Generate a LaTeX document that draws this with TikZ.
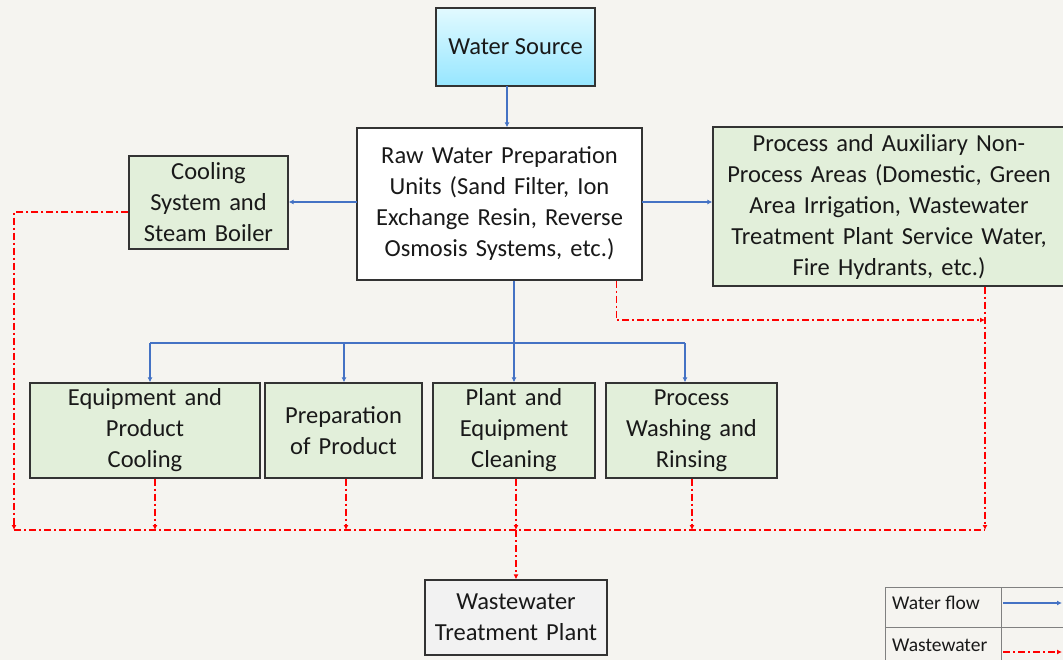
\documentclass[tikz,border=0pt]{standalone}
\usepackage{fontspec}
\setmainfont{Carlito}
\usetikzlibrary{arrows.meta}

\definecolor{paper}{RGB}{245,244,240}
\definecolor{flowblue}{RGB}{68,114,196}
\definecolor{boxgreen}{RGB}{226,239,218}
\definecolor{boxgray}{RGB}{242,242,242}
\definecolor{srctop}{RGB}{226,250,255}
\definecolor{srcbot}{RGB}{150,230,255}

\begin{document}
\begin{tikzpicture}[x=1pt,y=-1pt,line cap=butt]

    % let's define some key values
    \def\ybus{343}
    \def\ywaste{530}
    \def\ywasteaux{320}
    \def\xwasteleft{14}
    \def\xwasteright{985}
    \def\yrow{430.5}
    \def\hrow{95}

    % Styles
    \tikzstyle{box}=[draw=black!80, line width=1.3pt, align=center, inner sep=4pt,
        font=\fontsize{24.5}{31}\selectfont, text=black!90]
    \tikzstyle{greenbox}=[box, fill=boxgreen]
    \tikzstyle{water}=[draw=flowblue, line width=1.3pt, -{Latex[length=5pt,width=5pt]}]
    \tikzstyle{waste}=[draw=red, line width=1.4pt,
        dash pattern=on 7pt off 3pt on 2pt off 3pt, -{Latex[length=5pt,width=5pt]}]
    \tikzstyle{legtext}=[font=\fontsize{19.5}{22}\selectfont, text=black!90, inner sep=0pt]

    % page
    \fill[paper] (0,0) rectangle (1063,660);
    \useasboundingbox (0,0) rectangle (1063,660);
    \clip (0,0) rectangle (1063,660);

    % water source
    \node[box, top color=srctop, bottom color=srcbot, minimum width=159pt,
        minimum height=78pt] (src) at (515.5,47) {Water Source};

    % raw water preparation
    \node[box, fill=white, text width=277pt, minimum height=152pt] (raw) at (499.5,204)
        {Raw Water Preparation\\Units (Sand Filter, Ion\\Exchange Resin, Reverse\\Osmosis Systems, etc.)};

    % cooling system
    \node[greenbox, text width=151pt, minimum height=93pt] (cool) at (208.5,202.5)
        {Cooling\\System and\\Steam Boiler};

    % auxiliary areas
    \node[greenbox, text width=344pt, minimum height=159pt] (aux) at (889,206.5)
        {Process and Auxiliary Non-\\Process Areas (Domestic, Green\\Area Irrigation, Wastewater\\Treatment Plant Service Water,\\Fire Hydrants, etc.)};

    % consumers
    \node[greenbox, text width=222pt, minimum height=\hrow pt] (cooling) at (145,\yrow)
        {Equipment and\\Product\\Cooling};
    \node[greenbox, text width=149pt, minimum height=\hrow pt] (prep) at (343.5,\yrow)
        {Preparation\\of Product};
    \node[greenbox, text width=154pt, minimum height=\hrow pt] (clean) at (514,\yrow)
        {Plant and\\Equipment\\Cleaning};
    \node[greenbox, text width=163pt, minimum height=\hrow pt] (wash) at (691.5,\yrow)
        {Process\\Washing and\\Rinsing};

    % wastewater treatment plant
    \node[box, fill=boxgray, text width=174pt, minimum height=75pt] (wwtp) at (516,617.5)
        {Wastewater\\Treatment Plant};

    % water flow
    \coordinate (srcout) at (507,86);
    \coordinate (rawl) at (357,202);
    \coordinate (rawr) at (642,202);
    \draw[water] (srcout) -- (srcout |- raw.north);
    \draw[water] (rawl) -- (rawl -| cool.east);
    \draw[water] (rawr) -- (rawr -| aux.west);

    % distribution bus
    \coordinate (bus1) at (150,\ybus);
    \coordinate (bus2) at (344,\ybus);
    \coordinate (bus3) at (514,\ybus);
    \coordinate (bus4) at (685,\ybus);
    \draw[water, -] (bus3 |- raw.south) -- (bus3);
    \draw[water, -] (bus1) -- (bus4);
    \draw[water] (bus1) -- (bus1 |- cooling.north);
    \draw[water] (bus2) -- (bus2 |- prep.north);
    \draw[water] (bus3) -- (bus3 |- clean.north);
    \draw[water] (bus4) -- (bus4 |- wash.north);

    % wastewater collector
    \coordinate (wl) at (\xwasteleft,\ywaste);
    \coordinate (wr) at (\xwasteright,\ywaste);
    \coordinate (wa) at (\xwasteright,\ywasteaux);
    \draw[waste, -] (wl) -- (wr);
    \draw[waste] ([yshift=-9.5pt]cool.west) -| (wl);
    \draw[waste] ([xshift=117pt]raw.south) |- (wa);
    \draw[waste] ([xshift=96pt]aux.south) -- ([xshift=96pt]aux.south |- wr);
    \draw[waste] ([xshift=10pt]cooling.south) -- ([xshift=10pt]cooling.south |- wl);
    \draw[waste] ([xshift=2.5pt]prep.south) -- ([xshift=2.5pt]prep.south |- wl);
    \draw[waste] ([xshift=2pt]clean.south) -- ([xshift=2pt]clean.south |- wl);
    \draw[waste] ([xshift=0.5pt]wash.south) -- ([xshift=0.5pt]wash.south |- wl);
    \draw[waste] (wwtp.north |- wl) -- (wwtp.north);

    % legend
    \draw[black!50, line width=1pt] (885,587) rectangle (1075,700);
    \draw[black!50, line width=1pt] (885,627) -- (1075,627);
    \draw[black!50, line width=1pt] (1001,587) -- (1001,700);
    \node[legtext, anchor=west] (lwater) at (892,603) {Water flow};
    \node[legtext, anchor=west] (lwaste) at (892,645) {Wastewater};
    \coordinate (lw1) at (1003,603);
    \coordinate (lw2) at (1062,603);
    \coordinate (lx1) at (1003,652);
    \coordinate (lx2) at (1062,652);
    \draw[water] (lw1) -- (lw2);
    \draw[waste] (lx1) -- (lx2);

\end{tikzpicture}
\end{document}
